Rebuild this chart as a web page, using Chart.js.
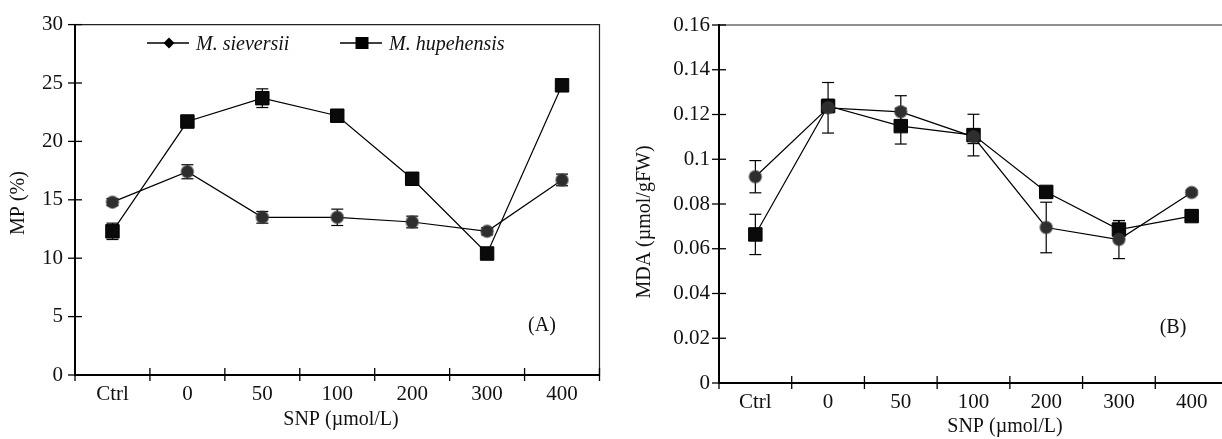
<!DOCTYPE html>
<html>
<head>
<meta charset="utf-8">
<script src="https://cdn.jsdelivr.net/npm/chart.js@4/dist/chart.umd.min.js"></script>
<style>
  html, body { margin: 0; padding: 0; background: #fff; width: 1222px; height: 439px; overflow: hidden; position: relative; }
  canvas { position: absolute; top: 0; }
  #chartMP { left: 0; }
  #chartMDA { left: 610px; }
</style>
</head>
<body>
<canvas id="chartMP" width="610" height="439"></canvas>
<canvas id="chartMDA" width="640" height="439"></canvas>
<script>
// SNP treatments (x categories)
const snpLabels = ['Ctrl', '0', '50', '100', '200', '300', '400'];
const seriesNames = ['M. sieversii', 'M. hupehensis'];

// (A) membrane permeability, %
const mpSieversii = [14.8, 17.4, 13.5, 13.5, 13.1, 12.3, 16.7];
const mpSieversiiErr = [0.3, 0.6, 0.5, 0.7, 0.5, 0.3, 0.5];
const mpHupehensis = [12.3, 21.7, 23.7, 22.2, 16.8, 10.4, 24.8];
const mpHupehensisErr = [0.7, 0.3, 0.8, 0.3, 0.3, 0.4, 0.3];
const mpTickLabels = ['0', '5', '10', '15', '20', '25', '30'];

// (B) MDA, umol/gFW
const mdaSieversii = [0.0922, 0.123, 0.1212, 0.110, 0.0695, 0.0641, 0.0851];
const mdaSieversiiErr = [0.0072, 0.0113, 0.0072, 0.003, 0.0113, 0.0085, 0.001];
const mdaHupehensis = [0.0664, 0.1238, 0.1148, 0.1108, 0.0854, 0.0686, 0.0746];
const mdaHupehensisErr = [0.009, 0.003, 0.008, 0.0093, 0.002, 0.004, 0.002];
const mdaTickLabels = ['0', '0.02', '0.04', '0.06', '0.08', '0.1', '0.12', '0.14', '0.16'];

const FONT = '"Liberation Serif", "Times New Roman", serif';

function line(ctx, x0, y0, x1, y1) {
  ctx.beginPath();
  ctx.moveTo(x0, y0);
  ctx.lineTo(x1, y1);
  ctx.stroke();
}

// frame (top/right), crossing tick marks and error bars
const paperAxes = {
  id: 'paperAxes',
  beforeDatasetsDraw(chart) {
    const { ctx, chartArea: a, scales: { x, y } } = chart;
    ctx.save();
    ctx.strokeStyle = '#222';
    ctx.lineWidth = 1.2;
    ctx.beginPath();
    ctx.moveTo(a.left, a.top);
    ctx.lineTo(a.right, a.top);
    ctx.lineTo(a.right, a.bottom);
    ctx.stroke();

    ctx.strokeStyle = '#000';
    ctx.lineWidth = 1.3;
    y.ticks.forEach((t, i) => {
      const py = y.getPixelForTick(i);
      line(ctx, a.left - 7, py, a.left + 7, py);
    });
    for (let i = 0; i <= snpLabels.length; i++) {
      const px = x.getPixelForValue(i - 0.5);
      line(ctx, px, a.bottom - 7, px, a.bottom + 6);
    }

    // error bars
    ctx.lineWidth = 1.2;
    chart.data.datasets.forEach((ds, di) => {
      const meta = chart.getDatasetMeta(di);
      meta.data.forEach((pt, i) => {
        const e = ds.errors[i];
        const v = ds.data[i];
        const yt = y.getPixelForValue(v + e);
        const yb = y.getPixelForValue(v - e);
        line(ctx, pt.x, yt, pt.x, yb);
        line(ctx, pt.x - 6, yt, pt.x + 6, yt);
        line(ctx, pt.x - 6, yb, pt.x + 6, yb);
      });
    });
    ctx.restore();
  },
  afterDraw(chart, args, o) {
    const { ctx } = chart;
    ctx.save();
    ctx.fillStyle = '#111';
    ctx.font = '20px ' + FONT;
    ctx.textAlign = 'center';
    ctx.textBaseline = 'middle';
    ctx.fillText(o.xTitle, o.xTitlePos[0], o.xTitlePos[1]);
    ctx.fillText(o.panel, o.panelPos[0], o.panelPos[1]);
    ctx.save();
    ctx.translate(o.yTitlePos[0], o.yTitlePos[1]);
    ctx.rotate(-Math.PI / 2);
    ctx.fillText(o.yTitle, 0, 0);
    ctx.restore();

    if (o.legend) {
      const ly = o.legend.y;
      ctx.font = 'italic 20px ' + FONT;
      ctx.textAlign = 'left';
      chart.data.datasets.forEach((ds, di) => {
        const x0 = o.legend.x[di];
        ctx.strokeStyle = '#000';
        ctx.lineWidth = 1.3;
        line(ctx, x0, ly, x0 + 42, ly);
        ctx.fillStyle = '#000';
        const cx = x0 + 22;
        if (ds.pointStyle === 'rect') {
          ctx.fillRect(cx - 6.5, ly - 6, 13, 12);
        } else {
          ctx.beginPath();
          ctx.moveTo(cx, ly - 5.5);
          ctx.lineTo(cx + 5.5, ly);
          ctx.lineTo(cx, ly + 5.5);
          ctx.lineTo(cx - 5.5, ly);
          ctx.closePath();
          ctx.fill();
        }
        ctx.fillStyle = '#111';
        ctx.fillText(ds.label, x0 + 49, ly + 2);
      });
    }
    ctx.restore();
  }
};

function makeDatasets(s1, e1, s2, e2) {
  return [
    {
      label: seriesNames[0], data: s1, errors: e1,
      borderColor: '#000', borderWidth: 1.2,
      pointStyle: 'circle', pointRadius: 6,
      pointBackgroundColor: '#2e2e2e', pointBorderColor: 'rgba(60,60,60,0.5)', pointBorderWidth: 2
    },
    {
      label: seriesNames[1], data: s2, errors: e2,
      borderColor: '#000', borderWidth: 1.2,
      pointStyle: 'rect', pointRadius: 9.5,
      pointBackgroundColor: '#0a0a0a', pointBorderColor: '#000', pointBorderWidth: 1
    }
  ];
}

function makeChart(id, cfg) {
  const ctx = document.getElementById(id).getContext('2d');
  return new Chart(ctx, {
    type: 'line',
    data: { labels: snpLabels, datasets: cfg.datasets },
    plugins: [paperAxes],
    options: {
      responsive: false,
      animation: false,
      layout: { padding: cfg.padding },
      plugins: {
        legend: { display: false },
        tooltip: { enabled: false },
        paperAxes: cfg.text
      },
      scales: {
        x: {
          type: 'category',
          offset: true,
          grid: { display: false, drawTicks: false, offset: true },
          border: { display: true, color: '#000', width: 2 },
          ticks: { color: '#111', font: { family: FONT, size: 21 }, padding: 7, autoSkip: false, maxRotation: 0 },
          afterFit: s => { s.height = cfg.xHeight; }
        },
        y: {
          min: 0, max: cfg.yMax,
          grid: { display: false, drawTicks: false },
          border: { display: true, color: '#000', width: 2 },
          ticks: {
            stepSize: cfg.yStep,
            color: '#111', font: { family: FONT, size: 21 }, padding: cfg.yPad,
            callback: (v, i) => cfg.yTicks[i]
          },
          afterFit: s => { s.width = cfg.yWidth; }
        }
      }
    }
  });
}

makeChart('chartMP', {
  datasets: makeDatasets(mpSieversii, mpSieversiiErr, mpHupehensis, mpHupehensisErr),
  padding: { top: 21, right: 10, left: 0, bottom: 0 },
  xHeight: 64, yWidth: 75, yPad: 12,
  yMax: 30, yStep: 5, yTicks: mpTickLabels,
  text: {
    xTitle: 'SNP (\u00b5mol/L)', xTitlePos: [341, 420],
    yTitle: 'MP (%)', yTitlePos: [19, 203],
    panel: '(A)', panelPos: [542, 326],
    legend: { y: 43, x: [147, 340] }
  }
});

makeChart('chartMDA', {
  datasets: makeDatasets(mdaSieversii, mdaSieversiiErr, mdaHupehensis, mdaHupehensisErr),
  padding: { top: 25, right: 22, left: 0, bottom: 0 },
  xHeight: 56, yWidth: 109, yPad: 9,
  yMax: 0.16, yStep: 0.02, yTicks: mdaTickLabels,
  text: {
    xTitle: 'SNP (\u00b5mol/L)', xTitlePos: [395, 427],
    yTitle: 'MDA (\u00b5mol/gFW)', yTitlePos: [35, 222],
    panel: '(B)', panelPos: [563, 328]
  }
});
</script>
</body>
</html>
